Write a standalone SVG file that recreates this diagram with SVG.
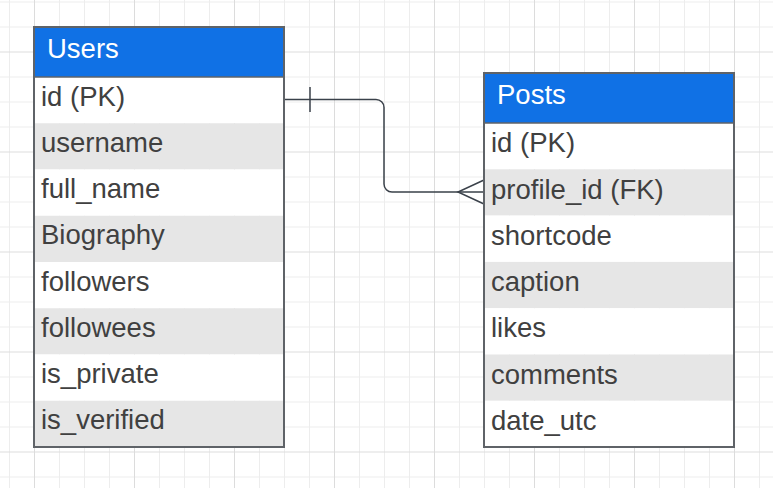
<svg xmlns="http://www.w3.org/2000/svg" width="773" height="488" viewBox="0 0 773 488">
<style>
.hdr{fill:#1071e5}
.row{fill:#ffffff}
.alt{fill:#e6e6e6}
.frame{fill:none;stroke:#5f6368;stroke-width:2}
.sep{stroke:#5f6368;stroke-width:1.5}
.ht{font-family:"Liberation Sans",Arial,sans-serif;font-size:27.5px;fill:#ffffff}
.t{font-family:"Liberation Sans",Arial,sans-serif;font-size:27.5px;fill:#404040}
.conn{fill:none;stroke:#3a414a;stroke-width:1.5}
</style>
<defs>
<pattern id="grid" patternUnits="userSpaceOnUse" x="34" y="51.5" width="100" height="100">
<path d="M25.5 0V100M50.5 0V100M75.5 0V100M0 25.5H100M0 50.5H100M0 75.5H100" stroke="#ededed" stroke-width="1"/>
<path d="M0.5 0V100M0 0.5H100" stroke="#dcdcdc" stroke-width="1"/>
</pattern>
</defs>
<rect width="773" height="488" fill="#ffffff"/>
<rect width="773" height="488" fill="url(#grid)"/>
<g id="connectors">
<path class="conn" d="M284 99.5H376a8 8 0 0 1 8 8V184a8 8 0 0 0 8 8H484"/>
<path class="conn" d="M310 87V112"/>
<path class="conn" d="M484 180L458 192L484 204"/>
</g>
<g id="users">
<rect class="hdr" x="34" y="27" width="250" height="50"/>
<rect class="row" x="34" y="77" width="250" height="46.25"/>
<rect class="alt" x="34" y="123.25" width="250" height="46.25"/>
<rect class="row" x="34" y="169.5" width="250" height="46.25"/>
<rect class="alt" x="34" y="215.75" width="250" height="46.25"/>
<rect class="row" x="34" y="262" width="250" height="46.25"/>
<rect class="alt" x="34" y="308.25" width="250" height="46.25"/>
<rect class="row" x="34" y="354.5" width="250" height="46.25"/>
<rect class="alt" x="34" y="400.75" width="250" height="46.25"/>
<line class="sep" x1="34" y1="77" x2="284" y2="77"/>
<rect class="frame" x="34" y="27" width="250" height="420"/>
<text class="ht" x="47" y="57.5">Users</text>
<text class="t" x="41" y="105.5">id (PK)</text>
<text class="t" x="41" y="152">username</text>
<text class="t" x="41" y="198">full_name</text>
<text class="t" x="41" y="244">Biography</text>
<text class="t" x="41" y="290.5">followers</text>
<text class="t" x="41" y="336.5">followees</text>
<text class="t" x="41" y="383">is_private</text>
<text class="t" x="41" y="429">is_verified</text>
</g>
<g id="posts">
<rect class="hdr" x="484" y="73" width="250" height="50"/>
<rect class="row" x="484" y="123" width="250" height="46.3"/>
<rect class="alt" x="484" y="169.3" width="250" height="46.3"/>
<rect class="row" x="484" y="215.6" width="250" height="46.3"/>
<rect class="alt" x="484" y="261.9" width="250" height="46.3"/>
<rect class="row" x="484" y="308.2" width="250" height="46.3"/>
<rect class="alt" x="484" y="354.5" width="250" height="46.3"/>
<rect class="row" x="484" y="400.8" width="250" height="46.2"/>
<line class="sep" x1="484" y1="123" x2="734" y2="123"/>
<rect class="frame" x="484" y="73" width="250" height="374"/>
<text class="ht" x="497" y="104">Posts</text>
<text class="t" x="491" y="152">id (PK)</text>
<text class="t" x="491" y="198.5">profile_id (FK)</text>
<text class="t" x="491" y="244.5">shortcode</text>
<text class="t" x="491" y="291">caption</text>
<text class="t" x="491" y="337">likes</text>
<text class="t" x="491" y="383.5">comments</text>
<text class="t" x="491" y="429.5">date_utc</text>
</g>
</svg>
